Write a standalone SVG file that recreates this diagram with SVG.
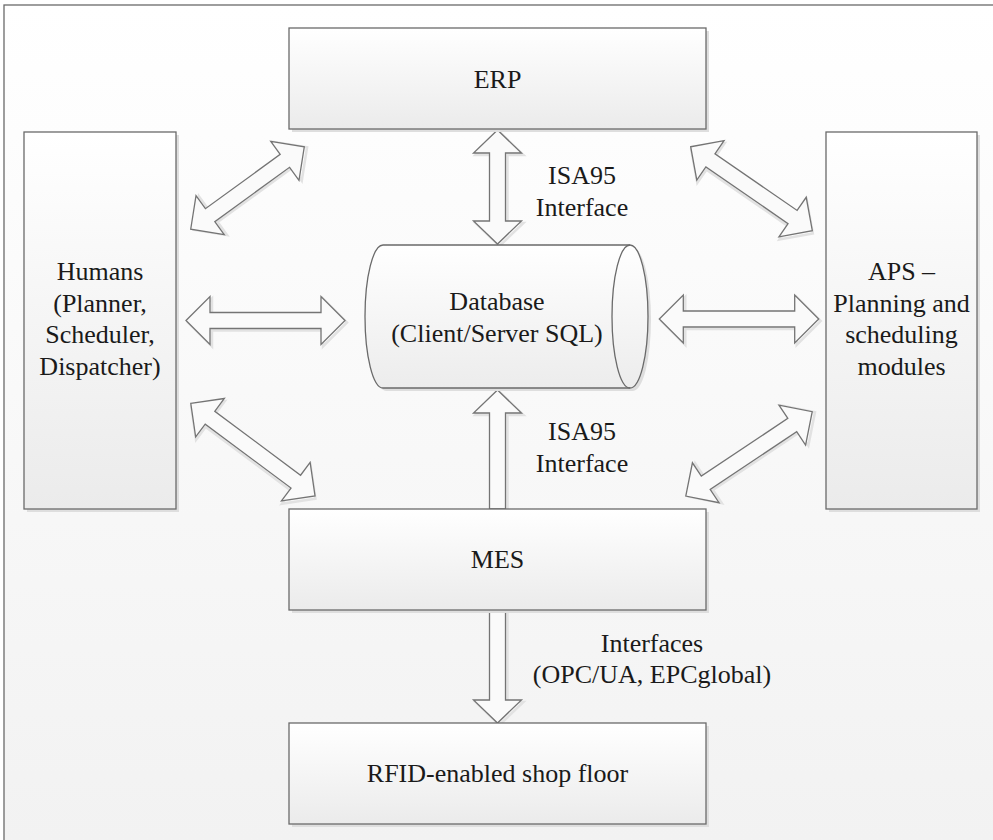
<svg xmlns="http://www.w3.org/2000/svg" width="993" height="840" viewBox="0 0 993 840">
<defs>
<linearGradient id="bg" x1="0" y1="0" x2="0" y2="1">
<stop offset="0" stop-color="#ffffff"/>
<stop offset="1" stop-color="#f1f1f1"/>
</linearGradient>
<linearGradient id="boxg" x1="0" y1="0" x2="0" y2="1">
<stop offset="0" stop-color="#ffffff"/>
<stop offset="1" stop-color="#ebebeb"/>
</linearGradient>
<linearGradient id="dbg" x1="0" y1="0" x2="0" y2="1">
<stop offset="0" stop-color="#ffffff"/>
<stop offset="1" stop-color="#ececec"/>
</linearGradient>
</defs>
<style>
.box{fill:url(#boxg);stroke:#6a6a6a;stroke-width:1.3}
.shadow{fill:#dedede;stroke:none}
.arrow{fill:#fafafa;stroke:#747474;stroke-width:1.3;stroke-linejoin:miter}
.ashadow{fill:none;stroke:#e2e2e2;stroke-width:2.5}
text{font-family:'Liberation Serif','Times New Roman',Times,serif;font-size:26px;fill:#1a1a1a;text-anchor:middle}
</style>
<rect x="0" y="0" width="993" height="840" fill="#ffffff"/>
<rect x="4" y="5" width="1000" height="900" fill="url(#bg)" stroke="#6a6a6a" stroke-width="1.3"/>

<g id="connectors">
<g transform="translate(247.5,188) rotate(-36)">
<path class="ashadow" transform="translate(2,2)" d="M-70.2,0 L-46.2,-24 L-46.2,-8 L46.2,-8 L46.2,-24 L70.2,0 L46.2,24 L46.2,8 L-46.2,8 L-46.2,24 Z"/>
<path class="arrow" d="M-70.2,0 L-46.2,-24 L-46.2,-8 L46.2,-8 L46.2,-24 L70.2,0 L46.2,24 L46.2,8 L-46.2,8 L-46.2,24 Z"/>
</g>
<g transform="translate(751.5,188.7) rotate(34.6)">
<path class="ashadow" transform="translate(2,2)" d="M-73.9,0 L-49.9,-24 L-49.9,-8 L49.9,-8 L49.9,-24 L73.9,0 L49.9,24 L49.9,8 L-49.9,8 L-49.9,24 Z"/>
<path class="arrow" d="M-73.9,0 L-49.9,-24 L-49.9,-8 L49.9,-8 L49.9,-24 L73.9,0 L49.9,24 L49.9,8 L-49.9,8 L-49.9,24 Z"/>
</g>
<g transform="translate(252.9,449.7) rotate(36.7)">
<path class="ashadow" transform="translate(2,2)" d="M-77.5,0 L-53.5,-24 L-53.5,-8 L53.5,-8 L53.5,-24 L77.5,0 L53.5,24 L53.5,8 L-53.5,8 L-53.5,24 Z"/>
<path class="arrow" d="M-77.5,0 L-53.5,-24 L-53.5,-8 L53.5,-8 L53.5,-24 L77.5,0 L53.5,24 L53.5,8 L-53.5,8 L-53.5,24 Z"/>
</g>
<g transform="translate(749,453.9) rotate(-33.7)">
<path class="ashadow" transform="translate(2,2)" d="M-76,0 L-52,-24 L-52,-8 L52,-8 L52,-24 L76,0 L52,24 L52,8 L-52,8 L-52,24 Z"/>
<path class="arrow" d="M-76,0 L-52,-24 L-52,-8 L52,-8 L52,-24 L76,0 L52,24 L52,8 L-52,8 L-52,24 Z"/>
</g>
<g transform="translate(265.5,320.5)">
<path class="ashadow" transform="translate(2,2)" d="M-79.5,0 L-55.5,-24 L-55.5,-8 L55.5,-8 L55.5,-24 L79.5,0 L55.5,24 L55.5,8 L-55.5,8 L-55.5,24 Z"/>
<path class="arrow" d="M-79.5,0 L-55.5,-24 L-55.5,-8 L55.5,-8 L55.5,-24 L79.5,0 L55.5,24 L55.5,8 L-55.5,8 L-55.5,24 Z"/>
</g>
<g transform="translate(739,319)">
<path class="ashadow" transform="translate(2,2)" d="M-79.7,0 L-55.7,-24 L-55.7,-8 L55.7,-8 L55.7,-24 L79.7,0 L55.7,24 L55.7,8 L-55.7,8 L-55.7,24 Z"/>
<path class="arrow" d="M-79.7,0 L-55.7,-24 L-55.7,-8 L55.7,-8 L55.7,-24 L79.7,0 L55.7,24 L55.7,8 L-55.7,8 L-55.7,24 Z"/>
</g>
<g transform="translate(497.5,187) rotate(90)">
<path class="ashadow" transform="translate(2,-2)" d="M-57,0 L-34,-24 L-34,-8 L34,-8 L34,-24 L57,0 L34,24 L34,8 L-34,8 L-34,24 Z"/>
<path class="arrow" d="M-57,0 L-34,-24 L-34,-8 L34,-8 L34,-24 L57,0 L34,24 L34,8 L-34,8 L-34,24 Z"/>
</g>
<path class="ashadow" transform="translate(2,2)" d="M497.5,390 L521.5,413 L505.5,413 L505.5,509 L489.5,509 L489.5,413 L473.5,413 Z"/>
<path class="arrow" d="M497.5,390 L521.5,413 L505.5,413 L505.5,509 L489.5,509 L489.5,413 L473.5,413 Z"/>
<path class="ashadow" transform="translate(2,2)" d="M489.5,610 L505.5,610 L505.5,700 L521.5,700 L497.5,723 L473.5,700 L489.5,700 Z"/>
<path class="arrow" d="M489.5,610 L505.5,610 L505.5,700 L521.5,700 L497.5,723 L473.5,700 L489.5,700 Z"/>
<text x="582" y="184">ISA95</text>
<text x="582" y="216">Interface</text>
<text x="582" y="440">ISA95</text>
<text x="582" y="472">Interface</text>
<text x="652" y="652">Interfaces</text>
<text x="652" y="683">(OPC/UA, EPCglobal)</text>
</g>

<g id="erp">
<rect class="shadow" x="292" y="31" width="417" height="101"/>
<rect class="box" x="289" y="28" width="417" height="101"/>
<text x="497.5" y="87.5">ERP</text>
</g>

<g id="humans">
<rect class="shadow" x="27" y="135" width="152" height="377"/>
<rect class="box" x="24" y="132" width="152" height="377"/>
<text x="100" y="280">Humans</text>
<text x="100" y="311.5">(Planner,</text>
<text x="100" y="343">Scheduler,</text>
<text x="100" y="374.5">Dispatcher)</text>
</g>

<g id="aps">
<rect class="shadow" x="829" y="135" width="151" height="377"/>
<rect class="box" x="826" y="132" width="151" height="377"/>
<text x="901.5" y="280">APS –</text>
<text x="901.5" y="311.5">Planning and</text>
<text x="901.5" y="343">scheduling</text>
<text x="901.5" y="374.5">modules</text>
</g>

<g id="database">
<path class="shadow" d="M386,248 L633,248 A18,71.5 0 0 1 633,391 L386,391 A18,71.5 0 0 1 386,248 Z"/>
<path d="M383,245 L630,245 A18,71.5 0 0 1 630,388 L383,388 A18,71.5 0 0 1 383,245 Z" fill="url(#dbg)" stroke="#6a6a6a" stroke-width="1.3"/>
<path d="M630,245 A18,71.5 0 0 0 630,388" fill="none" stroke="#6a6a6a" stroke-width="1.3"/>
<text x="497" y="310">Database</text>
<text x="497" y="341.5">(Client/Server SQL)</text>
</g>

<g id="mes">
<rect class="shadow" x="292" y="512" width="417" height="101"/>
<rect class="box" x="289" y="509" width="417" height="101"/>
<text x="497.5" y="567.5">MES</text>
</g>

<g id="rfid">
<rect class="shadow" x="292" y="726" width="417" height="101"/>
<rect class="box" x="289" y="723" width="417" height="101"/>
<text x="497.5" y="782">RFID-enabled shop floor</text>
</g>
</svg>
